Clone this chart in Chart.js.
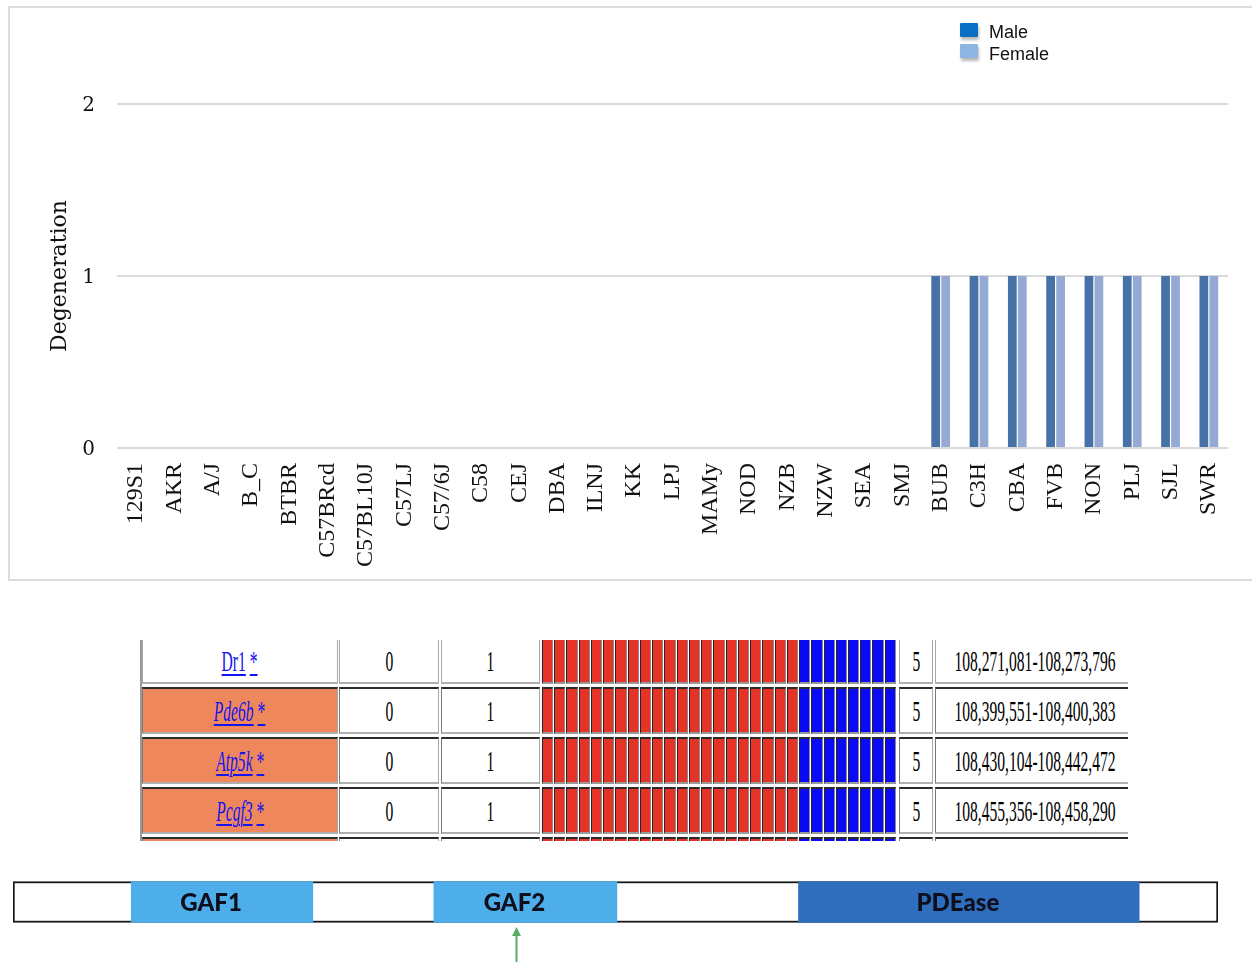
<!DOCTYPE html>
<html>
<head>
<meta charset="utf-8">
<script src="https://cdn.jsdelivr.net/npm/chart.js@4.4.1/dist/chart.umd.min.js"></script>
<style>
  html, body { margin: 0; padding: 0; background: #fff; }
  body { width: 1252px; height: 962px; position: relative; overflow: hidden; }
  #panel { position: absolute; left: 8px; top: 6px; width: 1270px; height: 575px;
           border: 2px solid #dcdcdc; box-sizing: border-box; }
  #degChart { position: absolute; left: 10px; top: 9px; }
  .legend { position: absolute; left: 960px; font-family: "Liberation Sans", Arial, sans-serif;
            font-size: 18px; color: #111; }
  .legend .sw { position: absolute; left: 0; width: 18px; height: 14px;
                box-shadow: 1px 3px 3px rgba(0,0,0,0.28); border-radius: 1px; }
  .legend .tx { position: absolute; left: 29px; white-space: nowrap; line-height: 20px; }
  #table { position: absolute; left: 140px; top: 640px; width: 988px; height: 201px; overflow: hidden; }
  #table .edge { position: absolute; left: 0; top: 0; width: 2px; height: 100%; background: #9a9a9a; }
  #table .cell { position: absolute; box-sizing: border-box; background: #fff;
                 border-top: 2px solid #2b2b2b; border-left: 1px solid #7a7a7a;
                 border-right: 1px solid #a8a8a8; border-bottom: 2px solid #b0b0b0;
                 display: flex; align-items: center; justify-content: center; }
  #table .first { border-top-color: #a8a8a8; border-left-color: #a8a8a8; }
  #table .txt { display: inline-block; font-family: "Liberation Serif", "Times New Roman", serif;
                font-size: 30px; color: #000; transform: scaleX(0.52); white-space: nowrap; }
  #table .lnk { color: #1414f0; }
  #table .lnk u { text-decoration-thickness: 2px; text-underline-offset: 3px; }
  #table .strain { position: absolute; box-sizing: border-box;
                   border-top: 2px solid #2b2b2b; border-left: 1px solid #262626;
                   border-right: 1px solid #8c8c8c; border-bottom: 2px solid #9a9a9a; }
  #domainChart { position: absolute; left: 0; top: 870px; filter: blur(0.5px); }
</style>
</head>
<body>
<div id="panel"></div>
<canvas id="degChart" width="1242" height="571"></canvas>
<div class="legend" style="top:23px;">
  <div class="sw" style="top:0; background:#0a6fc2;"></div>
  <div class="tx" style="top:-1px;">Male</div>
</div>
<div class="legend" style="top:44px;">
  <div class="sw" style="top:0; background:#8db4e2;"></div>
  <div class="tx" style="top:0;">Female</div>
</div>
<div id="table"></div>
<canvas id="domainChart" width="1252" height="92"></canvas>

<script>
// Mouse strains and their retinal degeneration scores
const strains = ['129S1', 'AKR', 'A/J', 'B_C', 'BTBR', 'C57BRcd', 'C57BL10J', 'C57LJ', 'C57/6J',
  'C58', 'CEJ', 'DBA', 'ILNJ', 'KK', 'LPJ', 'MAMy', 'NOD', 'NZB', 'NZW', 'SEA', 'SMJ',
  'BUB', 'C3H', 'CBA', 'FVB', 'NON', 'PLJ', 'SJL', 'SWR'];
const maleDegeneration = [0, 0, 0, 0, 0, 0, 0, 0, 0, 0, 0, 0, 0, 0, 0, 0, 0, 0, 0, 0, 0,
  1, 1, 1, 1, 1, 1, 1, 1];
const femaleDegeneration = [0, 0, 0, 0, 0, 0, 0, 0, 0, 0, 0, 0, 0, 0, 0, 0, 0, 0, 0, 0, 0,
  1, 1, 1, 1, 1, 1, 1, 1];
const yTicks = [0, 1, 2];

// Haplotype table rows for genes in the associated interval
const genes = ['Dr1', 'Pde6b', 'Atp5k', 'Pcgf3', ''];
const geneFlagged = [false, true, true, true, true];
const geneItalic = [false, true, true, true, true];
const colZero = ['0', '0', '0', '0', ''];
const colOne = ['1', '1', '1', '1', ''];
const colBlocks = ['5', '5', '5', '5', ''];
const positions = ['108,271,081-108,273,796', '108,399,551-108,400,383',
  '108,430,104-108,442,472', '108,455,356-108,458,290', ''];

// Pde6b protein domain map (residues)
const proteinLength = 856;
const domainNames = ['GAF1', 'GAF2', 'PDEase'];
const domainStart = [84, 299, 558];
const domainEnd = [213, 429, 800];
const domainColors = ['#4eaeea', '#4eaeea', '#2f6ebd'];
const mutationSite = [357];

// ---------- bar chart ----------
new Chart(document.getElementById('degChart'), {
  type: 'bar',
  data: {
    labels: strains,
    datasets: [
      { label: 'Male', data: maleDegeneration, backgroundColor: '#4672a8',
        categoryPercentage: 0.52, barPercentage: 0.88 },
      { label: 'Female', data: femaleDegeneration, backgroundColor: '#95aad2',
        categoryPercentage: 0.52, barPercentage: 0.88 }
    ]
  },
  options: {
    responsive: false,
    animation: false,
    devicePixelRatio: 1,
    layout: { padding: { top: 95, right: 24, left: 0, bottom: 0 } },
    plugins: { legend: { display: false }, tooltip: { enabled: false } },
    scales: {
      x: {
        grid: { display: false },
        border: { display: false },
        ticks: { autoSkip: false, maxRotation: 90, minRotation: 90, padding: 7, color: '#111',
                 font: { family: 'Liberation Serif', size: 24 } },
        afterFit(s) { s.height = 132; }
      },
      y: {
        min: 0, max: 2,
        afterBuildTicks(s) { s.ticks = yTicks.map(v => ({ value: v })); },
        grid: { color: '#dadada', lineWidth: 2, drawTicks: false },
        border: { display: false },
        ticks: { padding: 22, labelOffset: 2, color: '#111', font: { family: 'DejaVu Serif', size: 20 } },
        title: { display: true, text: 'Degeneration', color: '#111',
                 font: { family: 'DejaVu Serif', size: 22 }, padding: { top: 37, bottom: 0 } },
        afterFit(s) { s.width = 107; }
      }
    }
  }
});

// ---------- haplotype table ----------
(function buildTable() {
  const host = document.getElementById('table');
  const edge = document.createElement('div');
  edge.className = 'edge';
  host.appendChild(edge);
  const X0 = 140;
  function cell(left, top, width, height, bg, cls, html) {
    const d = document.createElement('div');
    d.className = 'cell' + (cls ? ' ' + cls : '');
    d.style.left = (left - X0) + 'px';
    d.style.top = top + 'px';
    d.style.width = width + 'px';
    d.style.height = height + 'px';
    if (bg) d.style.background = bg;
    if (html) d.innerHTML = html;
    host.appendChild(d);
    return d;
  }
  genes.forEach((g, r) => {
    const top = -3 + r * 50;
    const h = 47;
    const first = r === 0 ? 'first' : '';
    let label = '';
    if (g) {
      const name = geneItalic[r] ? '<i>' + g + '</i>' : g;
      label = '<span class="txt lnk"><u>' + name + '</u> <u>*</u></span>';
    }
    cell(142, top, 196, h, geneFlagged[r] ? '#ee885c' : '#fff', first, label);
    cell(339, top, 100, h, '#fff', first, colZero[r] ? '<span class="txt">' + colZero[r] + '</span>' : '');
    cell(441, top, 99, h, '#fff', first, colOne[r] ? '<span class="txt">' + colOne[r] + '</span>' : '');
    strains.forEach((s, i) => {
      const d = document.createElement('div');
      d.className = 'strain';
      const l = Math.round(542 + i * 12.24);
      const rr = Math.round(542 + (i + 1) * 12.24);
      d.style.left = (l - X0) + 'px';
      d.style.top = top + 'px';
      d.style.width = (rr - l - 1) + 'px';
      d.style.height = h + 'px';
      d.style.background = maleDegeneration[i] ? '#0a0af5' : '#e63328';
      host.appendChild(d);
    });
    cell(899, top, 34, h, '#fff', first, colBlocks[r] ? '<span class="txt">' + colBlocks[r] + '</span>' : '');
    cell(935, top, 200, h, '#fff', first, positions[r] ? '<span class="txt">' + positions[r] + '</span>' : '');
  });
})();

// ---------- domain map ----------
const labelShift = -11;
const domainLabels = {
  id: 'domainLabels',
  afterDatasetsDraw(chart) {
    const { ctx, scales: { x } } = chart;
    const cy = (chart.chartArea.top + chart.chartArea.bottom) / 2;
    ctx.save();
    ctx.font = '900 24px Lato';
    ctx.fillStyle = '#0e0e1c';
    ctx.textAlign = 'center';
    ctx.textBaseline = 'middle';
    domainNames.forEach((n, i) => {
      const cx = (x.getPixelForValue(domainStart[i]) + x.getPixelForValue(domainEnd[i])) / 2;
      ctx.fillText(n, cx + labelShift, cy + 1);
    });
    ctx.restore();
  },
  afterDraw(chart) {
    const { ctx, scales: { x } } = chart;
    ctx.save();
    ctx.strokeStyle = '#5aac64';
    ctx.fillStyle = '#5aac64';
    ctx.lineWidth = 2;
    mutationSite.forEach(v => {
      const px = Math.round(x.getPixelForValue(v)) + 0.5;
      ctx.beginPath();
      ctx.moveTo(px, 64);
      ctx.lineTo(px, 92);
      ctx.stroke();
      ctx.beginPath();
      ctx.moveTo(px, 57);
      ctx.lineTo(px - 4.5, 66);
      ctx.lineTo(px + 4.5, 66);
      ctx.closePath();
      ctx.fill();
    });
    ctx.restore();
  }
};

new Chart(document.getElementById('domainChart'), {
  type: 'bar',
  data: {
    labels: ['Pde6b'],
    datasets: [
      ...domainNames.map((n, i) => ({
        label: n, data: [[domainStart[i], domainEnd[i]]], backgroundColor: domainColors[i],
        borderWidth: 0, grouped: false, barThickness: 41, order: 0
      })),
      { label: 'protein', data: [[0, proteinLength]], backgroundColor: '#ffffff',
        borderColor: '#151515', borderWidth: 2, borderSkipped: false, grouped: false,
        barThickness: 41, order: 1 }
    ]
  },
  options: {
    indexAxis: 'y',
    responsive: false,
    animation: false,
    devicePixelRatio: 1,
    layout: { padding: { left: 13, right: 34, top: 0, bottom: 28 } },
    plugins: { legend: { display: false }, tooltip: { enabled: false } },
    scales: {
      x: { type: 'linear', min: 0, max: proteinLength, display: false },
      y: { display: false }
    }
  },
  plugins: [domainLabels]
});
</script>
</body>
</html>
